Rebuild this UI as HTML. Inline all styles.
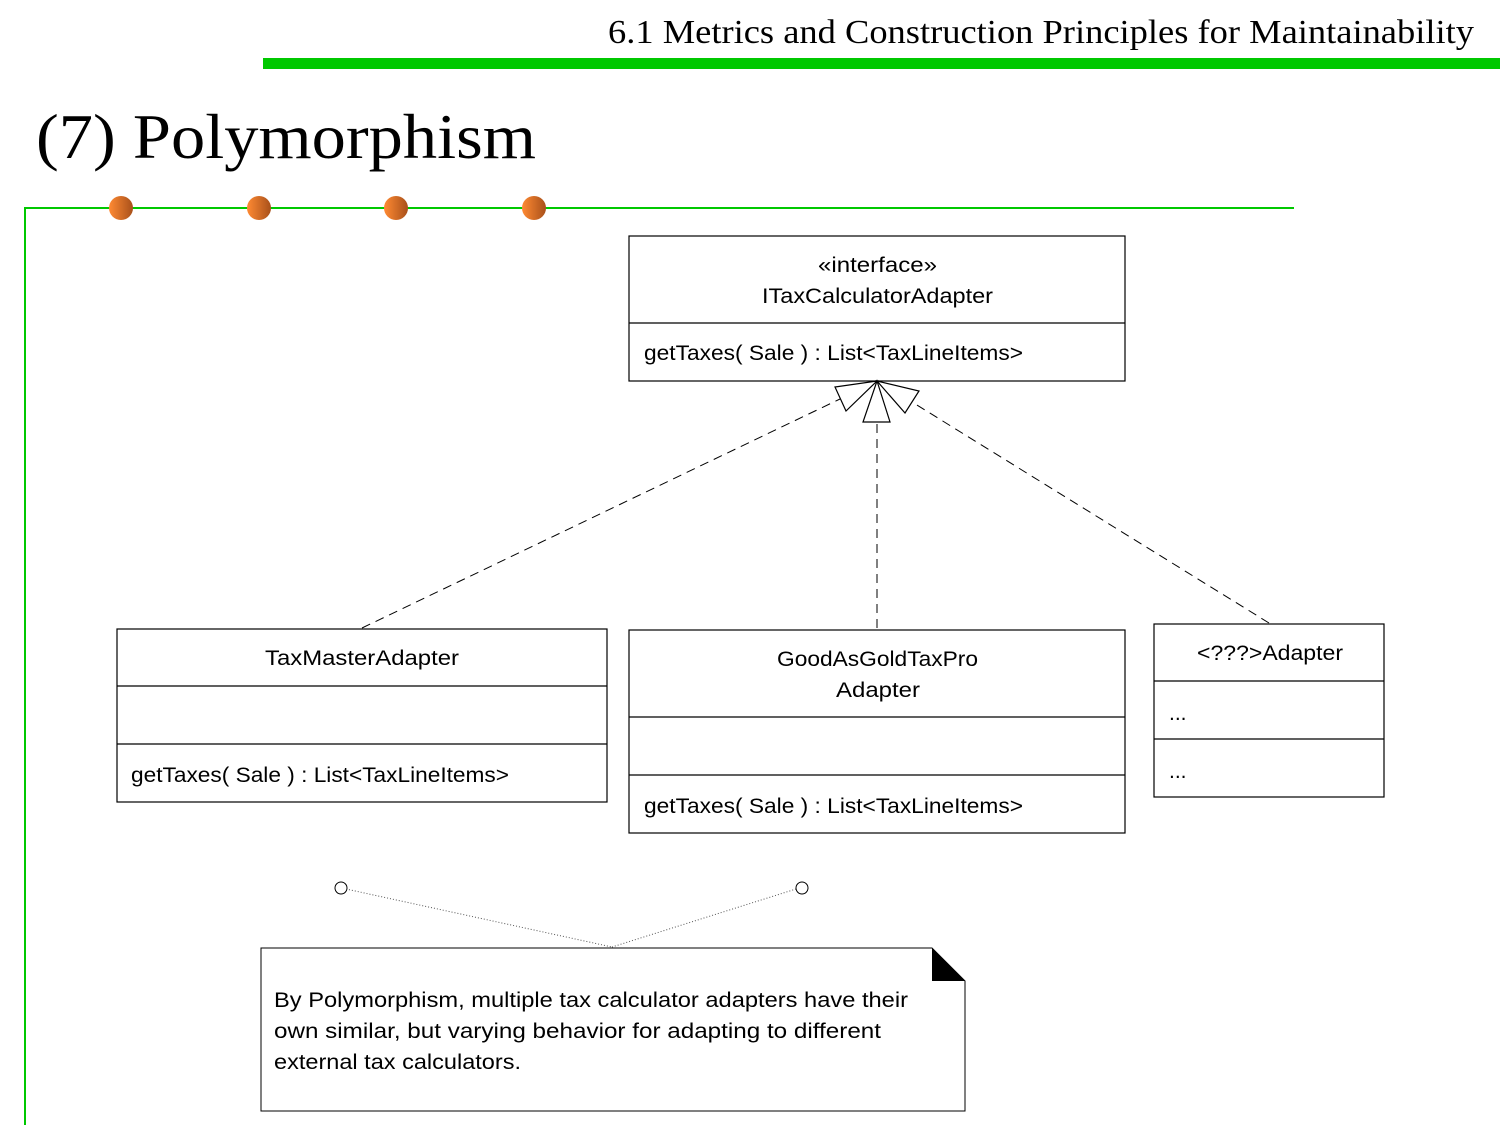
<!DOCTYPE html>
<html><head><meta charset="utf-8"><style>
html,body{margin:0;padding:0;background:#fff;}
svg{display:block;}
</style></head><body>
<svg width="1500" height="1125" viewBox="0 0 1500 1125" xmlns="http://www.w3.org/2000/svg">
<defs>
<linearGradient id="og" x1="0" x2="1" y1="0" y2="0">
<stop offset="0" stop-color="#ff8a33"/><stop offset="1" stop-color="#a8501a"/>
</linearGradient>
</defs>
<text x="608" y="43" textLength="866" lengthAdjust="spacingAndGlyphs" font-family="Liberation Serif, serif" font-size="34" fill="#000">6.1 Metrics and Construction Principles for Maintainability</text>
<rect x="263" y="58" width="1237" height="11" fill="#00c800"/>
<text x="36" y="158" textLength="500" lengthAdjust="spacingAndGlyphs" font-family="Liberation Serif, serif" font-size="64" fill="#000">(7) Polymorphism</text>
<path d="M25 1125 V208 H1294" fill="none" stroke="#00c800" stroke-width="2"/>
<circle cx="121" cy="208" r="12" fill="url(#og)"/>
<circle cx="259" cy="208" r="12" fill="url(#og)"/>
<circle cx="396" cy="208" r="12" fill="url(#og)"/>
<circle cx="534" cy="208" r="12" fill="url(#og)"/>
<g font-family="Liberation Sans, DejaVu Sans, sans-serif" font-size="21" fill="#000" lengthAdjust="spacingAndGlyphs">
<rect x="629" y="236" width="496" height="145" fill="#fff" stroke="#000" stroke-width="1.2"/>
<line x1="629" y1="323" x2="1125" y2="323" stroke="#000" stroke-width="1.2"/>
<text x="818" y="272" textLength="119" lengthAdjust="spacingAndGlyphs">«interface»</text>
<text x="762" y="303" textLength="231" lengthAdjust="spacingAndGlyphs">ITaxCalculatorAdapter</text>
<text x="644" y="360" textLength="379" lengthAdjust="spacingAndGlyphs">getTaxes( Sale ) : List&lt;TaxLineItems&gt;</text>
<rect x="117" y="629" width="490" height="173" fill="#fff" stroke="#000" stroke-width="1.2"/>
<line x1="117" y1="686" x2="607" y2="686" stroke="#000" stroke-width="1.2"/>
<line x1="117" y1="744" x2="607" y2="744" stroke="#000" stroke-width="1.2"/>
<text x="265" y="665" textLength="194" lengthAdjust="spacingAndGlyphs">TaxMasterAdapter</text>
<text x="131" y="782" textLength="378" lengthAdjust="spacingAndGlyphs">getTaxes( Sale ) : List&lt;TaxLineItems&gt;</text>
<rect x="629" y="630" width="496" height="203" fill="#fff" stroke="#000" stroke-width="1.2"/>
<line x1="629" y1="717" x2="1125" y2="717" stroke="#000" stroke-width="1.2"/>
<line x1="629" y1="775" x2="1125" y2="775" stroke="#000" stroke-width="1.2"/>
<text x="777" y="666" textLength="201" lengthAdjust="spacingAndGlyphs">GoodAsGoldTaxPro</text>
<text x="836" y="697" textLength="84" lengthAdjust="spacingAndGlyphs">Adapter</text>
<text x="644" y="813" textLength="379" lengthAdjust="spacingAndGlyphs">getTaxes( Sale ) : List&lt;TaxLineItems&gt;</text>
<rect x="1154" y="624" width="230" height="173" fill="#fff" stroke="#000" stroke-width="1.2"/>
<line x1="1154" y1="681" x2="1384" y2="681" stroke="#000" stroke-width="1.2"/>
<line x1="1154" y1="739" x2="1384" y2="739" stroke="#000" stroke-width="1.2"/>
<text x="1197" y="660" textLength="146" lengthAdjust="spacingAndGlyphs">&lt;???&gt;Adapter</text>
<text x="1169" y="720">...</text>
<text x="1169" y="778">...</text>
</g>
<g stroke="#000" stroke-width="1" stroke-dasharray="9,6" fill="none">
<line x1="362" y1="628" x2="840" y2="399"/>
<line x1="877" y1="628" x2="877" y2="422"/>
<line x1="1269" y1="623" x2="912" y2="402"/>
</g>
<g stroke="#000" stroke-width="1.2" fill="#fff" stroke-linejoin="miter">
<polygon points="877,381 835,387 846,411"/>
<polygon points="877,381 863,422 890,422"/>
<polygon points="877,381 919,391 905,413"/>
</g>
<g stroke="#555" stroke-width="1" stroke-dasharray="1,2" fill="none">
<line x1="346" y1="889" x2="612" y2="947"/>
<line x1="796" y1="889" x2="612" y2="947"/>
</g>
<circle cx="341" cy="888" r="6" fill="#fff" stroke="#000" stroke-width="1"/>
<circle cx="802" cy="888" r="6" fill="#fff" stroke="#000" stroke-width="1"/>
<path d="M261 948 H932 L965 981 V1111 H261 Z" fill="#fff" stroke="#000" stroke-width="1"/>
<polygon points="932,948 965,981 932,981" fill="#000"/>
<g font-family="Liberation Sans, DejaVu Sans, sans-serif" font-size="21" fill="#000">
<text x="274" y="1007" textLength="634" lengthAdjust="spacingAndGlyphs">By Polymorphism, multiple tax calculator adapters have their</text>
<text x="274" y="1038" textLength="607" lengthAdjust="spacingAndGlyphs">own similar, but varying behavior for adapting to different</text>
<text x="274" y="1069" textLength="247" lengthAdjust="spacingAndGlyphs">external tax calculators.</text>
</g>
</svg>
</body></html>
